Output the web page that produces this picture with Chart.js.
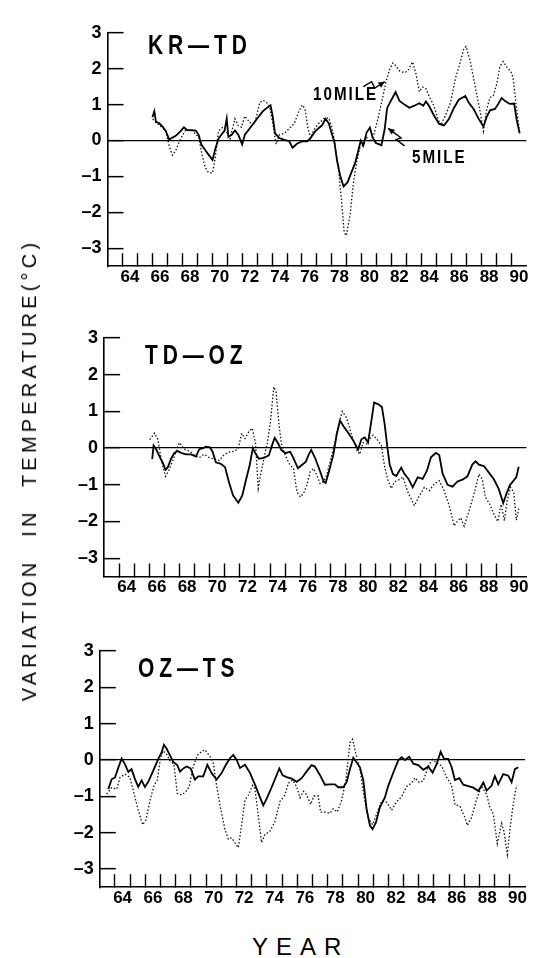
<!DOCTYPE html>
<html>
<head>
<meta charset="utf-8">
<title>Variation in temperature</title>
<script src="https://cdn.jsdelivr.net/npm/chart.js@4.4.1/dist/chart.umd.min.js"></script>
<style>
  html, body { margin: 0; padding: 0; background: #fff; }
  #page { position: relative; width: 535px; height: 958px; overflow: hidden; font-family: 'Liberation Sans', Arial, sans-serif; color: #000; }
  canvas { position: absolute; left: 0; }
  .txt { position: absolute; white-space: nowrap; transform-origin: left top; }
  .panel-title { font-weight: bold; font-size: 28px; line-height: 28px; letter-spacing: 6.5px; transform: scaleX(0.75); }
  .note { font-weight: bold; font-size: 19px; line-height: 19px; letter-spacing: 2.5px; transform: scaleX(0.8); }
  #y-title { left: 29px; top: 470px; font-size: 20px; line-height: 20px; letter-spacing: 4.2px; word-spacing: 12px; transform-origin: center center; transform: translate(-50%, -50%) rotate(-90deg); }
  #x-title { left: 252px; top: 935px; font-size: 24px; line-height: 24px; letter-spacing: 8px; }
</style>
</head>
<body>
<div id="page">
  <canvas id="kr-td" width="535" height="300" style="top:0px"></canvas>
  <canvas id="td-oz" width="535" height="310" style="top:300px"></canvas>
  <canvas id="oz-ts" width="535" height="310" style="top:610px"></canvas>

  <div class="txt panel-title" style="left:148px; top:31px">KR—TD</div>
  <div class="txt panel-title" style="left:145px; top:341px">TD—OZ</div>
  <div class="txt panel-title" style="left:138px; top:654px">OZ—TS</div>
  <div class="txt note" style="left:313px; top:84px">10MILE</div>
  <div class="txt note" style="left:412px; top:147px">5MILE</div>

  <div class="txt" id="y-title">VARIATION IN TEMPERATURE(°C)</div>
  <div class="txt" id="x-title">YEAR</div>
</div>

<script>
// axis ticks
const tickYears = [64, 65, 66, 67, 68, 69, 70, 71, 72, 73, 74, 75, 76, 77, 78, 79, 80, 81, 82, 83, 84, 85, 86, 87, 88, 89, 90];
const yTickValues = [3, 2, 1, 0, -1, -2, -3];
const yTickLabels = ['3', '2', '1', '0', '–1', '–2', '–3'];

// KR-TD, 5 mile (solid)
const krTd5Years = [66.0, 66.13, 66.24, 66.46, 66.68, 66.9, 67.12, 67.34, 67.56, 67.89, 68.11, 68.33, 68.66, 68.92, 69.1, 69.28, 69.54, 69.8, 70.02, 70.2, 70.42, 70.64, 70.82, 70.97, 71.08, 71.3, 71.52, 71.74, 72.0, 72.18, 72.4, 72.73, 73.06, 73.39, 73.72, 73.9, 74.05, 74.2, 74.49, 74.82, 75.15, 75.37, 75.66, 76.03, 76.36, 76.58, 76.85, 77.13, 77.35, 77.57, 77.79, 78.01, 78.17, 78.34, 78.56, 78.78, 79.05, 79.33, 79.55, 79.77, 79.93, 80.1, 80.32, 80.54, 80.72, 80.94, 81.31, 81.53, 81.69, 81.97, 82.26, 82.52, 82.85, 83.18, 83.51, 83.84, 84.11, 84.28, 84.5, 84.83, 85.16, 85.49, 85.82, 86.15, 86.48, 86.92, 87.14, 87.47, 87.8, 88.13, 88.35, 88.57, 88.9, 89.12, 89.34, 89.61, 89.89, 90.18, 90.35, 90.55];
const krTd5Vals = [0.65, 0.82, 0.52, 0.48, 0.39, 0.26, 0.03, 0.08, 0.13, 0.26, 0.37, 0.29, 0.29, 0.27, 0.15, -0.12, -0.27, -0.42, -0.54, -0.24, 0.05, 0.18, 0.27, 0.61, 0.1, 0.16, 0.28, 0.16, -0.11, 0.16, 0.28, 0.46, 0.64, 0.82, 0.93, 0.98, 0.65, 0.2, 0.07, 0.02, -0.02, -0.2, -0.09, -0.02, -0.02, 0.07, 0.24, 0.35, 0.43, 0.61, 0.48, 0.17, -0.05, -0.55, -0.99, -1.28, -1.16, -0.86, -0.63, -0.27, 0, -0.14, 0.22, 0.36, 0.09, -0.07, -0.13, 0.32, 0.9, 1.13, 1.35, 1.1, 1.0, 0.91, 0.97, 1.04, 0.97, 1.09, 0.96, 0.69, 0.47, 0.42, 0.6, 0.9, 1.14, 1.24, 1.06, 0.88, 0.61, 0.39, 0.66, 0.84, 0.88, 1.02, 1.18, 1.09, 1.02, 1.03, 0.58, 0.2];

// KR-TD, 10 mile (dotted)
const krTd10Years = [66.02, 66.24, 66.57, 66.9, 67.12, 67.34, 67.56, 67.78, 68.0, 68.22, 68.66, 69.1, 69.32, 69.54, 69.76, 70.02, 70.2, 70.42, 70.68, 70.9, 71.19, 71.52, 71.74, 71.96, 72.18, 72.51, 72.84, 73.17, 73.39, 73.61, 73.83, 74.05, 74.27, 74.49, 74.82, 75.26, 75.48, 75.81, 76.03, 76.2, 76.4, 76.58, 76.8, 77.13, 77.46, 77.79, 78.01, 78.23, 78.45, 78.67, 78.82, 78.96, 79.22, 79.44, 79.66, 79.88, 80.1, 80.32, 80.54, 80.81, 81.09, 81.38, 81.6, 81.86, 82.08, 82.3, 82.52, 82.85, 83.07, 83.4, 83.62, 83.84, 84.06, 84.28, 84.5, 84.83, 85.05, 85.27, 85.6, 85.93, 86.26, 86.59, 86.81, 86.97, 87.25, 87.58, 87.91, 88.13, 88.35, 88.57, 88.79, 89.01, 89.23, 89.45, 89.67, 89.96, 90.11, 90.33, 90.55];
const krTd10Vals = [0.6, 0.5, 0.39, 0.26, -0.15, -0.41, -0.28, -0.05, 0.13, 0.29, 0.27, 0.09, -0.4, -0.76, -0.9, -0.9, -0.49, 0.27, 0.36, 0.27, 0.05, 0.61, 0.41, 0.37, 0.68, 0.5, 0.46, 1.05, 1.12, 1.07, 0.96, 0.47, -0.1, 0.16, 0.2, 0.38, 0.47, 0.83, 0.99, 0.88, 0.34, 0.07, 0.3, 0.48, 0.61, 0.63, 0.35, -0.19, -0.82, -1.8, -2.56, -2.65, -2.06, -1.17, -0.59, -0.18, -0.14, 0.09, -0.04, 0.18, 0.63, 1.17, 1.62, 1.98, 2.16, 2.07, 1.94, 1.89, 1.94, 2.19, 1.86, 1.36, 1.49, 1.45, 1.23, 0.96, 0.65, 0.42, 0.7, 1.06, 1.73, 2.2, 2.55, 2.62, 2.2, 1.5, 0.8, 0.26, 0.88, 1.2, 1.25, 1.56, 2.06, 2.2, 2.06, 1.92, 1.75, 0.94, 0.2];

// TD-OZ, 5 mile (solid)
const tdOz5Years = [66.19, 66.28, 66.46, 66.68, 66.9, 67.07, 67.23, 67.44, 67.66, 67.88, 68.1, 68.43, 68.76, 69.09, 69.31, 69.53, 69.75, 70.01, 70.19, 70.41, 70.74, 71.02, 71.28, 71.55, 71.9, 72.16, 72.43, 72.65, 72.86, 73.04, 73.26, 73.59, 73.92, 74.14, 74.31, 74.53, 74.75, 75.01, 75.34, 75.56, 75.85, 76.11, 76.38, 76.55, 76.73, 76.99, 77.32, 77.54, 77.69, 77.91, 78.2, 78.42, 78.64, 78.86, 79.18, 79.51, 79.84, 80.06, 80.28, 80.5, 80.72, 80.9, 81.16, 81.42, 81.6, 81.77, 81.93, 82.15, 82.37, 82.7, 82.92, 83.18, 83.46, 83.79, 84.12, 84.41, 84.67, 85.0, 85.22, 85.44, 85.77, 86.1, 86.43, 86.76, 87.09, 87.41, 87.63, 87.85, 88.18, 88.51, 88.84, 89.17, 89.46, 89.67, 89.89, 90.16, 90.33, 90.49];
const tdOz5Vals = [-0.3, 0.07, -0.04, -0.23, -0.41, -0.59, -0.52, -0.29, -0.13, -0.08, -0.13, -0.17, -0.17, -0.23, -0.03, -0.01, 0.04, 0.02, -0.1, -0.39, -0.43, -0.52, -0.93, -1.29, -1.49, -1.29, -0.83, -0.47, 0.0, -0.15, -0.29, -0.27, -0.2, 0.08, 0.28, 0.13, -0.05, -0.14, -0.1, -0.28, -0.55, -0.46, -0.37, -0.19, -0.05, -0.27, -0.63, -0.9, -0.95, -0.63, -0.18, 0.37, 0.75, 0.6, 0.42, 0.21, -0.04, 0.24, 0.29, 0.15, 0.74, 1.24, 1.2, 1.12, 0.65, 0.06, -0.44, -0.71, -0.76, -0.53, -0.71, -0.84, -1.07, -0.8, -0.84, -0.61, -0.25, -0.13, -0.19, -0.69, -1.0, -1.05, -0.91, -0.86, -0.77, -0.45, -0.36, -0.45, -0.49, -0.67, -0.85, -1.12, -1.5, -1.25, -1.02, -0.88, -0.79, -0.51];

// TD-OZ, 10 mile (dotted)
const tdOz10Years = [66.02, 66.35, 66.57, 66.79, 67.07, 67.33, 67.66, 67.99, 68.32, 68.65, 68.98, 69.31, 69.64, 69.97, 70.3, 70.63, 70.96, 71.28, 71.61, 71.9, 72.12, 72.34, 72.6, 72.82, 73.04, 73.22, 73.37, 73.59, 73.81, 74.03, 74.25, 74.4, 74.58, 74.75, 75.01, 75.28, 75.56, 75.78, 76.0, 76.22, 76.44, 76.66, 76.88, 77.1, 77.32, 77.54, 77.76, 78.04, 78.31, 78.57, 78.79, 79.08, 79.4, 79.73, 79.95, 80.17, 80.39, 80.61, 80.83, 81.05, 81.38, 81.6, 81.82, 82.04, 82.26, 82.48, 82.81, 83.14, 83.57, 83.9, 84.23, 84.56, 84.89, 85.22, 85.55, 85.88, 86.21, 86.43, 86.65, 86.87, 87.19, 87.52, 87.85, 88.07, 88.29, 88.58, 88.84, 89.1, 89.32, 89.54, 89.72, 89.94, 90.16, 90.33, 90.49];
const tdOz10Vals = [0.23, 0.41, 0.23, -0.32, -0.77, -0.58, -0.22, 0.15, -0.03, -0.08, -0.19, -0.26, -0.17, -0.26, -0.3, -0.34, -0.18, -0.11, -0.09, -0.01, 0.4, 0.26, 0.45, 0.54, 0.13, -1.1, -0.74, -0.29, 0.12, 0.71, 1.67, 1.53, 0.71, 0.12, -0.2, -0.43, -0.56, -1.19, -1.33, -1.24, -1.01, -0.65, -0.56, -0.74, -0.97, -0.92, -0.74, -0.28, 0.18, 0.68, 1.0, 0.82, 0.37, -0.04, -0.17, 0.15, 0.11, 0.25, 0.35, 0.26, 0.08, -0.51, -0.87, -1.1, -0.92, -0.88, -0.79, -1.2, -1.57, -1.3, -1.07, -1.16, -0.98, -0.89, -1.16, -1.57, -2.12, -1.99, -1.9, -2.13, -1.72, -1.26, -0.71, -0.85, -1.35, -1.53, -1.8, -2.0, -1.53, -1.98, -1.43, -1.07, -1.2, -1.97, -1.65];

// OZ-TS, 5 mile (solid)
const ozTs5Years = [63.56, 63.78, 64.0, 64.22, 64.44, 64.66, 64.88, 65.09, 65.31, 65.53, 65.75, 65.97, 66.19, 66.52, 66.85, 67.07, 67.22, 67.4, 67.62, 67.84, 68.1, 68.28, 68.5, 68.72, 68.98, 69.26, 69.48, 69.81, 70.08, 70.36, 70.69, 71.02, 71.3, 71.57, 71.79, 72.01, 72.23, 72.56, 72.88, 73.21, 73.54, 73.76, 73.98, 74.31, 74.53, 74.82, 75.04, 75.3, 75.63, 75.96, 76.29, 76.61, 76.94, 77.16, 77.49, 77.82, 78.15, 78.48, 78.7, 79.03, 79.25, 79.47, 79.69, 79.91, 80.13, 80.35, 80.57, 80.79, 80.96, 81.18, 81.44, 81.77, 81.99, 82.32, 82.65, 82.87, 83.09, 83.37, 83.64, 83.97, 84.3, 84.63, 84.91, 85.17, 85.44, 85.66, 85.94, 86.16, 86.38, 86.67, 86.93, 87.26, 87.59, 87.92, 88.25, 88.47, 88.79, 89.01, 89.23, 89.56, 89.89, 90.11, 90.33, 90.55];
const ozTs5Vals = [-0.8, -0.53, -0.48, -0.21, 0.04, -0.12, -0.33, -0.25, -0.52, -0.74, -0.56, -0.74, -0.6, -0.29, 0.03, 0.21, 0.42, 0.31, 0.13, -0.05, -0.14, -0.32, -0.23, -0.18, -0.23, -0.54, -0.45, -0.45, -0.13, -0.36, -0.54, -0.36, -0.13, 0.05, 0.14, 0.0, -0.22, -0.13, -0.35, -0.67, -1.02, -1.25, -1.07, -0.75, -0.53, -0.23, -0.42, -0.47, -0.51, -0.6, -0.5, -0.32, -0.14, -0.18, -0.41, -0.68, -0.67, -0.67, -0.75, -0.75, -0.61, -0.25, 0.06, -0.07, -0.2, -0.56, -1.37, -1.81, -1.9, -1.72, -1.3, -1.03, -0.71, -0.35, -0.01, 0.08, 0.0, 0.09, -0.1, -0.14, -0.27, -0.18, -0.35, -0.12, 0.23, 0.03, 0.03, -0.19, -0.55, -0.5, -0.68, -0.72, -0.76, -0.85, -0.62, -0.84, -0.71, -0.44, -0.67, -0.39, -0.43, -0.61, -0.25, -0.2];

// OZ-TS, 10 mile (dotted)
const ozTs10Years = [63.45, 63.78, 64.11, 64.33, 64.66, 64.98, 65.2, 65.53, 65.82, 66.04, 66.3, 66.57, 66.78, 67.0, 67.18, 67.4, 67.62, 67.88, 68.1, 68.39, 68.67, 68.89, 69.15, 69.42, 69.7, 69.92, 70.25, 70.47, 70.69, 70.95, 71.24, 71.46, 71.68, 71.9, 72.12, 72.34, 72.56, 72.78, 73.06, 73.21, 73.43, 73.65, 73.87, 74.2, 74.53, 74.86, 75.19, 75.41, 75.69, 75.96, 76.18, 76.4, 76.61, 76.88, 77.1, 77.38, 77.54, 77.82, 78.15, 78.37, 78.63, 78.92, 79.2, 79.47, 79.64, 79.86, 80.13, 80.39, 80.68, 80.96, 81.22, 81.55, 81.88, 82.21, 82.54, 82.87, 83.2, 83.53, 83.75, 84.03, 84.3, 84.63, 84.91, 85.17, 85.5, 85.83, 86.16, 86.38, 86.71, 87.04, 87.19, 87.48, 87.81, 88.14, 88.47, 88.69, 88.91, 89.17, 89.45, 89.61, 89.83, 90.0, 90.22, 90.44];
const ozTs10Vals = [-0.94, -0.76, -0.8, -0.48, -0.39, -0.48, -0.84, -1.38, -1.78, -1.65, -1.11, -0.7, -0.56, 0.07, 0.25, 0.16, -0.02, -0.11, -0.92, -0.96, -0.87, -0.73, -0.18, 0.13, 0.23, 0.28, 0.1, -0.08, -0.7, -1.33, -1.91, -2.18, -2.14, -2.28, -2.41, -1.78, -1.1, -0.97, -0.7, -0.79, -1.51, -2.27, -2.05, -1.96, -1.69, -1.14, -0.96, -0.64, -0.55, -0.73, -1.04, -0.86, -0.95, -1.22, -0.99, -0.99, -1.44, -1.43, -1.47, -1.34, -1.43, -1.11, -0.56, 0.48, 0.57, 0.17, -0.27, -0.99, -1.6, -1.78, -1.5, -1.12, -1.16, -1.38, -1.15, -1.01, -0.73, -0.63, -0.49, -0.62, -0.57, -0.16, 0.02, -0.07, -0.16, -0.47, -0.69, -1.23, -1.27, -1.58, -1.8, -1.58, -1.08, -0.72, -0.95, -1.31, -1.49, -2.3, -1.74, -1.97, -2.6, -1.92, -1.2, -0.7];

// pointer arrows beside the 10MILE / 5MILE notes (year, value)
const tenMileArrow = [[80.1, 1.5], [80.65, 1.64], [80.87, 1.46], [81.53, 1.64]];
const fiveMileArrow = [[82.85, -0.15], [82.3, 0.03], [82.63, 0.07], [81.76, 0.34]];

const toPoints = (xs, ys) => xs.map((x, i) => ({ x: x, y: ys[i] }));

const arrowPlugin = {
  id: 'mileArrows',
  afterDatasetsDraw(chart) {
    const { ctx, scales } = chart;
    ctx.save();
    ctx.strokeStyle = '#000';
    ctx.fillStyle = '#000';
    ctx.lineWidth = 1.4;
    [tenMileArrow, fiveMileArrow].forEach(path => {
      const pts = path.map(p => [scales.x.getPixelForValue(p[0]), scales.y.getPixelForValue(p[1])]);
      ctx.beginPath();
      pts.forEach((p, i) => (i ? ctx.lineTo(p[0], p[1]) : ctx.moveTo(p[0], p[1])));
      ctx.stroke();
      const [hx, hy] = pts[pts.length - 1];
      const [px, py] = pts[pts.length - 2];
      const a = Math.atan2(hy - py, hx - px);
      ctx.beginPath();
      ctx.moveTo(hx, hy);
      ctx.lineTo(hx - 7 * Math.cos(a - 0.45), hy - 7 * Math.sin(a - 0.45));
      ctx.lineTo(hx - 7 * Math.cos(a + 0.45), hy - 7 * Math.sin(a + 0.45));
      ctx.closePath();
      ctx.fill();
    });
    ctx.restore();
  }
};

function makePanel(id, area, solid, dotted, plugins) {
  const canvas = document.getElementById(id);
  const W = canvas.width, H = canvas.height;
  return new Chart(canvas, {
    type: 'line',
    data: {
      datasets: [
        { label: '5MILE', data: solid, borderColor: '#000', borderWidth: 1.8, pointRadius: 0, tension: 0 },
        { label: '10MILE', data: dotted, borderColor: '#111', borderWidth: 1.3, borderDash: [1.5, 2], pointRadius: 0, tension: 0 }
      ]
    },
    options: {
      responsive: false,
      animation: false,
      layout: { padding: { top: area.top, right: W - area.right, bottom: 0, left: 0 } },
      plugins: { legend: { display: false }, tooltip: { enabled: false } },
      scales: {
        x: {
          type: 'linear',
          min: 63,
          max: 91,
          afterBuildTicks: s => { s.ticks = tickYears.map(v => ({ value: v })); },
          afterFit: s => { s.height = H - area.bottom; },
          border: { display: true, color: '#000', width: 1.6 },
          grid: { drawOnChartArea: false, tickLength: -13, tickColor: '#000', tickWidth: 1.4 },
          ticks: {
            autoSkip: false,
            maxRotation: 0,
            padding: 14,
            labelOffset: 7.6,
            color: '#000',
            font: { family: "'Liberation Sans', Arial, sans-serif", size: 17, weight: 'bold' },
            callback: v => (v % 2 === 0 ? String(v) : '')
          }
        },
        y: {
          min: -3.5,
          max: 3,
          afterBuildTicks: s => { s.ticks = yTickValues.map(v => ({ value: v })); },
          afterFit: s => { s.width = area.left; },
          border: { display: true, color: '#000', width: 1.6 },
          grid: {
            color: c => (c.tick && c.tick.value === 0 ? '#000' : 'rgba(0,0,0,0)'),
            lineWidth: 1.3,
            tickLength: -16,
            tickColor: '#000',
            tickWidth: 1.5
          },
          ticks: {
            padding: 22,
            color: '#000',
            font: { family: "'Liberation Sans', Arial, sans-serif", size: 18, weight: 'bold' },
            callback: v => yTickLabels[yTickValues.indexOf(v)]
          }
        }
      }
    },
    plugins: plugins || []
  });
}

makePanel('kr-td', { left: 107.5, top: 24.3, right: 531.8, bottom: 266.2 },
  toPoints(krTd5Years, krTd5Vals), toPoints(krTd10Years, krTd10Vals), [arrowPlugin]);
makePanel('td-oz', { left: 104.1, top: 38, right: 529.4, bottom: 276.5 },
  toPoints(tdOz5Years, tdOz5Vals), toPoints(tdOz10Years, tdOz10Vals));
makePanel('oz-ts', { left: 99.8, top: 41, right: 525.1, bottom: 281.5 },
  toPoints(ozTs5Years, ozTs5Vals), toPoints(ozTs10Years, ozTs10Vals));
</script>
</body>
</html>
